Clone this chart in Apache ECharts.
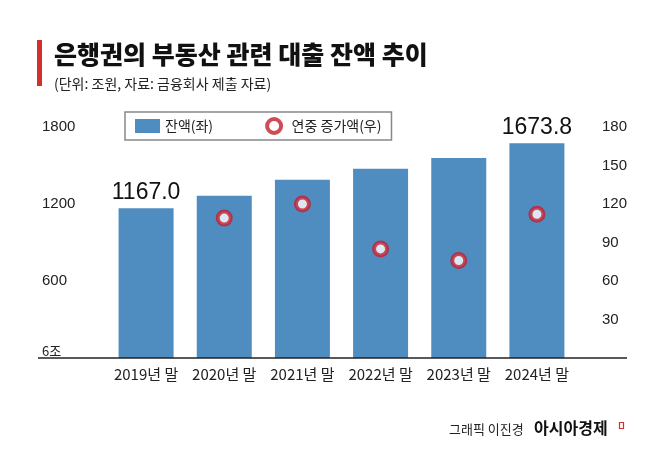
<!DOCTYPE html>
<html>
<head>
<meta charset="utf-8">
<script src="https://cdn.jsdelivr.net/npm/echarts@6/dist/echarts.min.js"></script>
<style>
html,body{margin:0;padding:0;background:#fff;}
#c{width:658px;height:456px;}
</style>
</head>
<body>
<div id="c"></div>
<script>
const categories = ['2019년 말','2020년 말','2021년 말','2022년 말','2023년 말','2024년 말'];
const balance = [1167.0, 1265, 1388, 1474, 1558, 1673.8];
const increase = [null, 109, 120, 85, 76, 112];
const leftTicks = [0, 600, 1200, 1800];
const rightTicks = [0, 30, 60, 90, 120, 150, 180];
const labeledBars = [0, 5];

const NUM = "'Liberation Sans','Noto Sans CJK KR',sans-serif";
const KR = "'Noto Sans CJK KR',sans-serif";

const chart = echarts.init(document.getElementById('c'), null, {renderer:'canvas'});
chart.setOption({
  backgroundColor:'#fff',
  animation:false,
  title:[
    {text:'은행권의 부동산 관련 대출 잔액 추이', left:49, top:37,
     textStyle:{fontFamily:KR, fontSize:25, fontWeight:900, color:'#111'}},
    {text:'(단위: 조원, 자료: 금융회사 제출 자료)', left:49, top:72,
     textStyle:{fontFamily:KR, fontSize:14, fontWeight:'normal', color:'#222'}}
  ],
  graphic:[
    {type:'rect', left:37, top:40, shape:{width:5, height:46}, style:{fill:'#d32f2f'}},
    {type:'line', shape:{x1:38, y1:358, x2:627, y2:358}, style:{stroke:'#222', lineWidth:1.5}, z:10},
    {type:'text', left:449, top:423, style:{text:'그래픽 이진경', fontFamily:KR, fontSize:13, fill:'#222'}},
    {type:'text', left:534, top:420, style:{text:'아시아경제', fontFamily:KR, fontSize:16, fontWeight:'bold', fill:'#111'}},
    {type:'rect', left:617, top:420, shape:{width:4, height:6}, style:{fill:'none', stroke:'#d32f2f', lineWidth:1.2}}
  ],
  legend:{
    left:125, top:112, width:273,
    itemWidth:25, itemHeight:14, itemGap:52,
    padding:[5,10,5,10],
    borderColor:'#888', borderWidth:1.5,
    textStyle:{fontFamily:KR, fontSize:14, color:'#222'},
    data:[
      {name:'잔액(좌)', icon:'rect'},
      {name:'연중 증가액(우)', icon:'circle', itemStyle:{color:'#fff', borderColor:'#c41e2e', borderWidth:4}}
    ]
  },
  grid:{left:107, right:82, top:127, bottom:98},
  xAxis:{
    type:'category', data:categories,
    axisLine:{show:false}, axisTick:{show:false},
    axisLabel:{interval:0, fontFamily:KR, fontSize:15, color:'#222', margin:9}
  },
  yAxis:[
    {type:'value', min:0, max:1800, interval:300,
     splitLine:{show:false}, axisLine:{show:false}, axisTick:{show:false},
     axisLabel:{
       align:'left', margin:65, fontFamily:NUM, fontSize:15, color:'#222',
       formatter:function(v){ if(v===0) return '{z|6조}'; return leftTicks.indexOf(v)>=0 ? String(v) : ''; },
       rich:{z:{fontFamily:KR, fontSize:13, color:'#222', padding:[0,0,14,0]}}
     }},
    {type:'value', min:0, max:180, interval:30,
     splitLine:{show:false}, axisLine:{show:false}, axisTick:{show:false},
     axisLabel:{align:'left', margin:26, fontFamily:NUM, fontSize:15, color:'#222',
       formatter:function(v){ return (v===0 || rightTicks.indexOf(v)<0) ? '' : String(v); }}}
  ],
  series:[
    {name:'잔액(좌)', type:'bar', yAxisIndex:0, barWidth:55,
     itemStyle:{color:'#4f8dc1'},
     data: balance.map(function(v,i){
       return labeledBars.indexOf(i)>=0 ? {value:v, label:{show:true, position:'top', distance:4,
         formatter:function(p){return p.value.toFixed(1);},
         fontFamily:NUM, fontSize:23, color:'#111', letterSpacing:-1}} : v;
     })},
    {name:'연중 증가액(우)', type:'scatter', yAxisIndex:1, symbol:'circle', symbolSize:13,
     itemStyle:{color:'#fff', borderColor:'#c41e2e', borderWidth:4},
     data: increase}
  ]
});
</script>
</body>
</html>
